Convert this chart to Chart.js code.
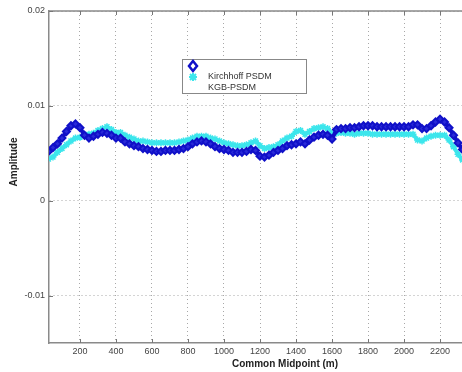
<!DOCTYPE html>
<html>
<head>
<meta charset="utf-8">
<script src="https://cdn.jsdelivr.net/npm/chart.js@4"></script>
<style>
  html, body { margin: 0; padding: 0; background: #fff; }
  #wrap { width: 462px; height: 372px; }
</style>
</head>
<body>
<div id="wrap"><canvas id="ampChart" width="462" height="372"></canvas></div>
<script>
// Common midpoint positions (m)
const cmp = [25, 50, 75, 100, 125, 150, 175, 200, 225, 250, 275, 300, 325, 350, 375, 400, 425, 450, 475, 500,
  525, 550, 575, 600, 625, 650, 675, 700, 725, 750, 775, 800, 825, 850, 875, 900, 925, 950, 975, 1000,
  1025, 1050, 1075, 1100, 1125, 1150, 1175, 1200, 1225, 1250, 1275, 1300, 1325, 1350, 1375, 1400, 1425, 1450, 1475, 1500,
  1525, 1550, 1575, 1600, 1625, 1650, 1675, 1700, 1725, 1750, 1775, 1800, 1825, 1850, 1875, 1900, 1925, 1950, 1975, 2000,
  2025, 2050, 2075, 2100, 2125, 2150, 2175, 2200, 2225, 2250, 2275, 2300, 2325];

// Kirchhoff PSDM amplitude
const kirchhoff = [0.0052, 0.0056, 0.0060, 0.0066, 0.0073, 0.0079, 0.0081, 0.0077, 0.0069, 0.0066, 0.0068, 0.0070, 0.0072, 0.0071, 0.0069, 0.0066, 0.0066, 0.0062, 0.0060, 0.0058,
  0.0057, 0.0055, 0.0054, 0.0053, 0.0052, 0.0052, 0.0053, 0.0053, 0.0053, 0.0054, 0.0055, 0.0057, 0.0060, 0.0062, 0.0063, 0.0062, 0.0060, 0.0057, 0.0055, 0.0054,
  0.0053, 0.0051, 0.0051, 0.0051, 0.0052, 0.0054, 0.0053, 0.0047, 0.0046, 0.0048, 0.0051, 0.0053, 0.0055, 0.0058, 0.0059, 0.0060, 0.0062, 0.0060, 0.0064, 0.0067,
  0.0069, 0.0070, 0.0069, 0.0065, 0.0075, 0.0076, 0.0076, 0.0077, 0.0077, 0.0078, 0.0079, 0.0079, 0.0079, 0.0078, 0.0078, 0.0078, 0.0078, 0.0078, 0.0078, 0.0078,
  0.0078, 0.0080, 0.0080, 0.0076, 0.0076, 0.0079, 0.0083, 0.0086, 0.0083, 0.0077, 0.0069, 0.0061, 0.0054];

// KGB-PSDM amplitude
const kgb = [0.0044, 0.0046, 0.0051, 0.0055, 0.0059, 0.0063, 0.0066, 0.0067, 0.0069, 0.0070, 0.0071, 0.0074, 0.0076, 0.0078, 0.0075, 0.0072, 0.0072, 0.0069, 0.0067, 0.0065,
  0.0063, 0.0063, 0.0062, 0.0061, 0.0061, 0.0061, 0.0061, 0.0061, 0.0061, 0.0062, 0.0063, 0.0064, 0.0066, 0.0068, 0.0068, 0.0068, 0.0066, 0.0065, 0.0063, 0.0061,
  0.0060, 0.0059, 0.0058, 0.0058, 0.0059, 0.0061, 0.0063, 0.0058, 0.0055, 0.0056, 0.0057, 0.0059, 0.0063, 0.0066, 0.0068, 0.0073, 0.0074, 0.0070, 0.0073, 0.0076,
  0.0077, 0.0078, 0.0076, 0.0071, 0.0071, 0.0072, 0.0071, 0.0071, 0.0070, 0.0071, 0.0071, 0.0071, 0.0070, 0.0070, 0.0070, 0.0070, 0.0070, 0.0070, 0.0070, 0.0070,
  0.0070, 0.0070, 0.0064, 0.0063, 0.0066, 0.0068, 0.0069, 0.0069, 0.0069, 0.0064, 0.0057, 0.0049, 0.0043];

const xTicks = [200, 400, 600, 800, 1000, 1200, 1400, 1600, 1800, 2000, 2200];
const yTicks = [-0.01, 0, 0.01, 0.02];
const yTickLabels = ['-0.01', '0', '0.01', '0.02'];
const seriesNames = ['Kirchhoff PSDM', 'KGB-PSDM'];

const BLUE = '#1010c8';
const CYAN = '#3ce6ec';
const FONT = "'Liberation Sans', Arial, sans-serif";

const toPoints = vals => cmp.map((x, i) => ({ x: x, y: vals[i] }));

// frame, inward tick marks, axis titles and the legend box (matlab style)
const matlabBits = {
  id: 'matlabBits',
  afterDraw(chart) {
    const c = chart.ctx;
    const a = chart.chartArea;
    const xs = chart.scales.x, ys = chart.scales.y;
    c.save();
    c.strokeStyle = '#8a8a8a';
    c.lineWidth = 1.5;
    c.beginPath();
    c.moveTo(a.left, a.top);
    c.lineTo(a.right, a.top);
    c.stroke();

    c.lineWidth = 1;
    c.strokeStyle = '#777';
    c.beginPath();
    xTicks.forEach(v => {
      const px = Math.round(xs.getPixelForValue(v)) + 0.5;
      c.moveTo(px, a.top); c.lineTo(px, a.top + 4);
      c.moveTo(px, a.bottom); c.lineTo(px, a.bottom - 4);
    });
    yTicks.forEach(v => {
      const py = Math.round(ys.getPixelForValue(v)) + 0.5;
      c.moveTo(a.left, py); c.lineTo(a.left + 4, py);
    });
    c.stroke();

    // axis titles
    c.fillStyle = '#222';
    c.font = 'bold 10px ' + FONT;
    c.textAlign = 'center';
    c.textBaseline = 'middle';
    c.fillText('Common Midpoint (m)', 285, 364);
    c.save();
    c.translate(14, 162);
    c.rotate(-Math.PI / 2);
    c.fillText('Amplitude', 0, 0);
    c.restore();

    // legend
    c.fillStyle = '#fff';
    c.fillRect(182, 59, 124, 34);
    c.strokeStyle = '#888';
    c.lineWidth = 1;
    c.strokeRect(182.5, 59.5, 124, 34);

    c.strokeStyle = BLUE;
    c.fillStyle = '#fff';
    c.beginPath();
    c.moveTo(193, 61); c.lineTo(197, 66); c.lineTo(193, 71); c.lineTo(189, 66); c.closePath();
    c.fill();
    c.lineWidth = 2.5;
    c.stroke();

    c.strokeStyle = CYAN;
    c.lineWidth = 2;
    c.beginPath();
    c.moveTo(193, 73); c.lineTo(193, 81);
    c.moveTo(189, 77); c.lineTo(197, 77);
    c.moveTo(190, 74); c.lineTo(196, 80);
    c.moveTo(196, 74); c.lineTo(190, 80);
    c.stroke();

    c.fillStyle = '#333';
    c.font = '9px ' + FONT;
    c.textAlign = 'left';
    c.fillText(seriesNames[0], 208, 77);
    c.fillText(seriesNames[1], 208, 88);
    c.restore();
  }
};

new Chart(document.getElementById('ampChart').getContext('2d'), {
  type: 'line',
  data: {
    datasets: [
      {
        label: seriesNames[0],
        data: toPoints(kirchhoff),
        borderColor: BLUE,
        backgroundColor: '#fff',
        borderWidth: 4,
        pointStyle: 'rectRot',
        pointRadius: 3.5,
        pointBorderWidth: 2,
        pointBorderColor: BLUE,
        pointBackgroundColor: '#2a2ad8',
        tension: 0,
        fill: false
      },
      {
        label: seriesNames[1],
        data: toPoints(kgb),
        borderColor: CYAN,
        backgroundColor: CYAN,
        borderWidth: 4,
        pointStyle: 'star',
        pointRadius: 3.5,
        pointBorderWidth: 1.5,
        pointBorderColor: CYAN,
        tension: 0,
        fill: false
      }
    ]
  },
  options: {
    responsive: false,
    animation: false,
    events: [],
    layout: { autoPadding: false, padding: { left: 0, right: 0, top: 11, bottom: 0 } },
    plugins: {
      legend: { display: false },
      tooltip: { enabled: false }
    },
    scales: {
      x: {
        type: 'linear',
        min: 28,
        max: 2322,
        afterBuildTicks: scale => { scale.ticks = xTicks.map(v => ({ value: v })); },
        afterFit: scale => {
          scale.height = 29;
          scale.paddingLeft = 0;
          scale.paddingRight = 0;
        },
        ticks: {
          color: '#444',
          font: { family: FONT, size: 9 },
          padding: 3,
          maxRotation: 0,
          autoSkip: false,
          callback: v => String(v)
        },
        grid: { color: '#a8a8a8', lineWidth: 1, drawTicks: false },
        border: { display: true, color: '#8a8a8a', width: 1.5, dash: [1, 3] }
      },
      y: {
        type: 'linear',
        min: -0.015,
        max: 0.02,
        afterBuildTicks: scale => { scale.ticks = yTicks.map(v => ({ value: v })); },
        afterFit: scale => { scale.width = 49; },
        ticks: {
          color: '#444',
          font: { family: FONT, size: 9 },
          padding: 4,
          autoSkip: false,
          callback: (v, i) => yTickLabels[i]
        },
        grid: { color: '#a8a8a8', lineWidth: 1, drawTicks: false },
        border: { display: true, color: '#8a8a8a', width: 1.5, dash: [1, 3] }
      }
    }
  },
  plugins: [matlabBits]
});
</script>
</body>
</html>
